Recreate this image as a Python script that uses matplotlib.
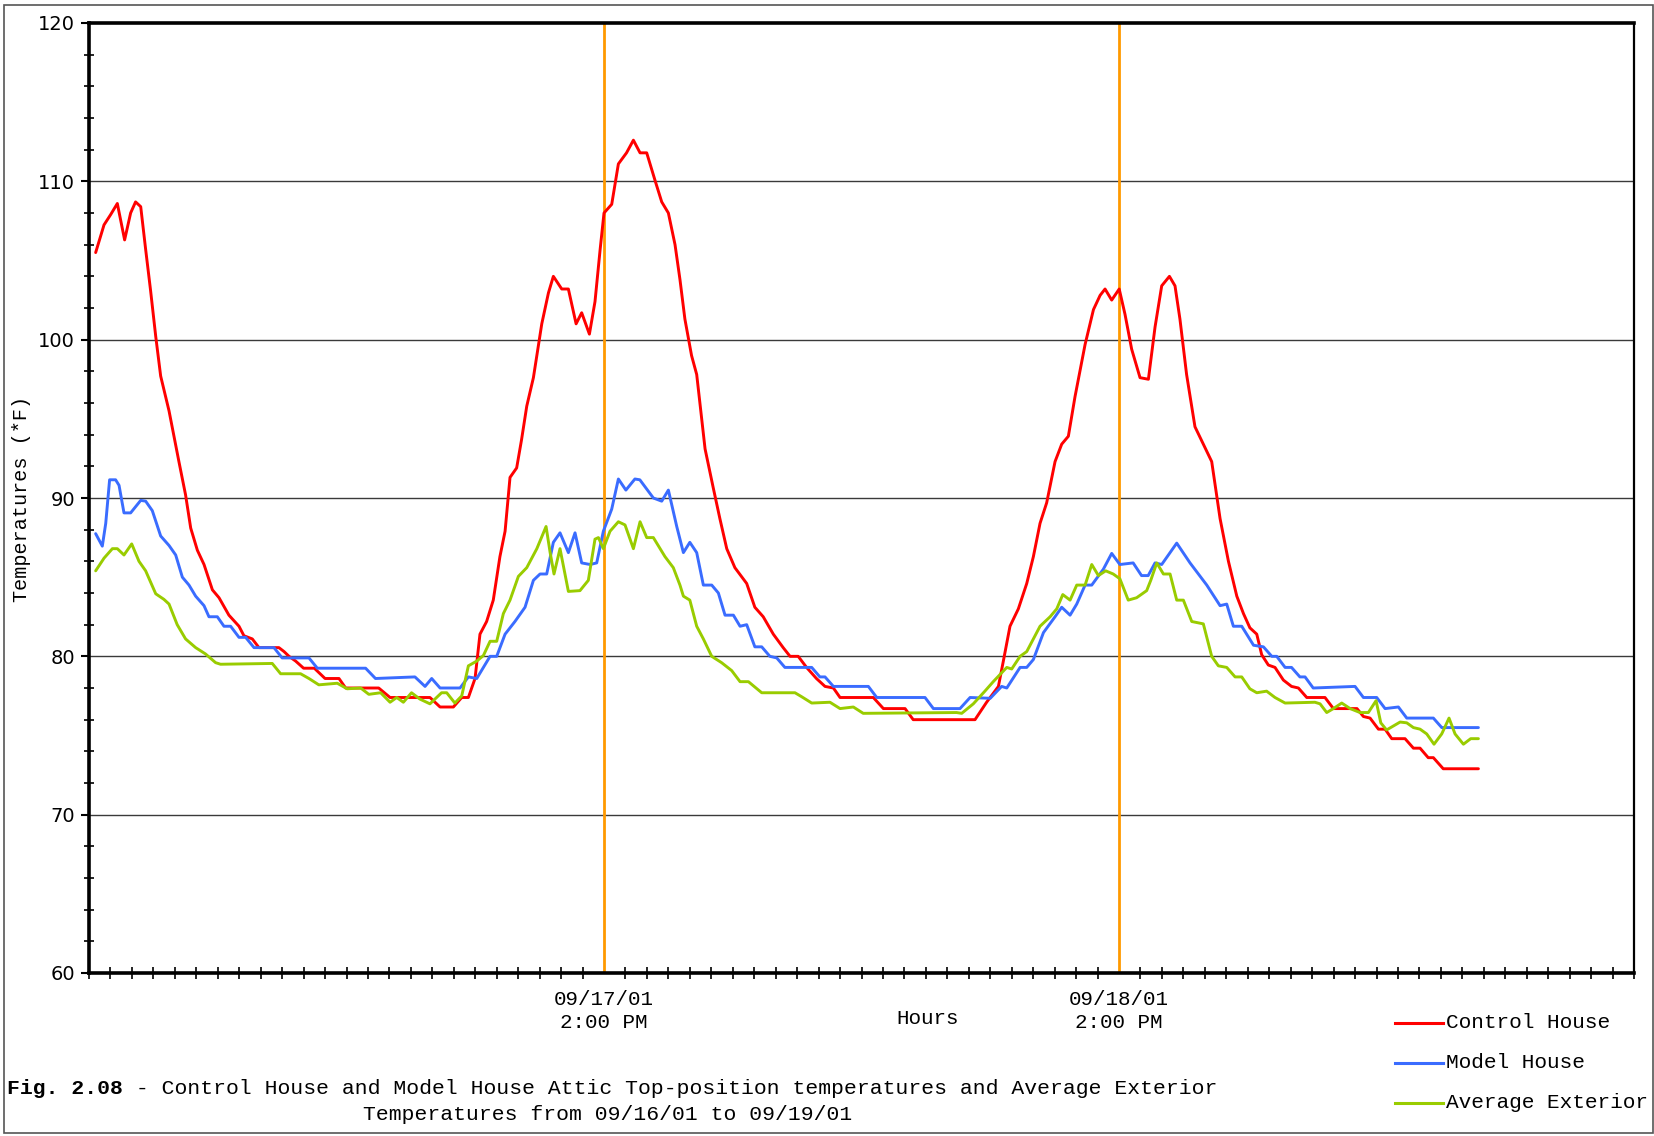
import matplotlib
matplotlib.use("Agg")
import matplotlib.pyplot as plt
from matplotlib.lines import Line2D
from matplotlib.patches import Rectangle
from matplotlib.ticker import MultipleLocator

# ─── DATA (hours since 09/16/01 2:00 PM, temperatures in *F) ─────────────

ctrl_hours = [0.31, 0.70, 1.01, 1.32, 1.66, 1.94, 2.17, 2.41, 2.64, 2.87, 3.11, 3.34,
              3.73, 4.19, 4.50, 4.74, 5.05, 5.36, 5.75, 6.06, 6.52, 6.99, 7.22, 7.61,
              7.92, 8.85, 9.09, 9.32, 9.63, 10.0, 10.5, 11.0, 11.65, 11.96, 13.5, 14.03,
              15.89, 16.36, 16.98, 17.37, 17.68, 17.99, 18.22, 18.53, 18.84, 19.15, 19.39,
              19.62, 19.93, 20.16, 20.4, 20.71, 21.1, 21.41, 21.64, 22.03, 22.34, 22.7,
              22.96, 23.32, 23.58, 23.82, 24.0, 24.36, 24.67, 25.05, 25.37, 25.68, 25.99,
              26.38, 26.69, 27.0, 27.31, 27.54, 27.77, 28.08, 28.32, 28.71, 29.09, 29.4,
              29.72, 30.1, 30.65, 31.03, 31.42, 31.89, 32.35, 32.67, 33.05, 33.44, 33.9,
              34.3, 34.69, 35.0, 36.55, 37.02, 38.03, 38.41, 41.29, 41.83, 42.38, 42.61,
              42.92, 43.31, 43.7, 44.01, 44.32, 44.63, 45.02, 45.33, 45.64, 45.95, 46.42,
              46.81, 47.12, 47.35, 47.66, 48.01, 48.28, 48.59, 48.98, 49.37, 49.68, 49.99,
              50.35, 50.61, 50.84, 51.15, 51.54, 51.93, 52.32, 52.71, 53.1, 53.49, 53.8,
              54.1, 54.42, 54.65, 54.96, 55.27, 55.66, 56.04, 56.36, 56.75, 57.6, 57.99,
              59.09, 59.39, 59.7, 60.09, 60.4, 60.71, 61.33, 61.72, 62.03, 62.41, 62.65,
              63.11, 64.75]
ctrl_temps = [105.5, 107.25, 107.9, 108.6, 106.3, 108.0, 108.7, 108.4, 105.7, 103.1, 100.2, 97.7,
              95.5, 92.3, 90.2, 88.1, 86.7, 85.8, 84.2, 83.7, 82.6, 81.9, 81.3, 81.1,
              80.55, 80.55, 80.3, 80.0, 79.7, 79.25, 79.25, 78.6, 78.6, 78.0, 78.0, 77.4,
              77.4, 76.8, 76.8, 77.4, 77.4, 78.6, 81.4, 82.2, 83.55, 86.3, 87.9,
              91.3, 91.9, 93.7, 95.8, 97.6, 101.0, 102.95, 104.0, 103.2, 103.2, 101.0,
              101.7, 100.35, 102.4, 105.7, 108.0, 108.55, 111.1, 111.8, 112.6, 111.8, 111.8,
              110.05, 108.7, 108.0, 106.0, 103.8, 101.3, 99.0, 97.8, 93.1, 90.65, 88.7,
              86.8, 85.6, 84.6, 83.1, 82.5, 81.4, 80.55, 80.0, 80.0, 79.3, 78.6,
              78.1, 78.0, 77.4, 77.4, 76.7, 76.7, 76.0, 76.0, 77.1, 78.1, 79.7,
              81.9, 83.0, 84.6, 86.3, 88.4, 89.7, 92.3, 93.4, 93.9, 96.4, 99.7,
              101.9, 102.8, 103.2, 102.5, 103.2, 101.6, 99.4, 97.6, 97.5, 100.8, 103.4,
              104.0, 103.4, 101.3, 97.8, 94.5, 93.4, 92.3, 88.7, 86.0, 83.8, 82.7,
              81.8, 81.4, 80.1, 79.45, 79.3, 78.5, 78.1, 78.0, 77.4, 77.4, 76.7,
              76.7, 76.2, 76.1, 75.4, 75.4, 74.8, 74.8, 74.2, 74.2, 73.6, 73.6,
              72.9, 72.9]

model_hours = [0.31, 0.62, 0.78, 0.96, 1.24, 1.40, 1.63, 1.94, 2.41, 2.64, 2.95, 3.34,
               3.73, 4.04, 4.35, 4.66, 4.97, 5.36, 5.59, 5.98, 6.29, 6.60, 6.99, 7.30,
               7.69, 8.62, 9.0, 10.25, 10.64, 12.89, 13.35, 15.19, 15.66, 15.97, 16.36,
               17.29, 17.68, 18.07, 18.69, 19.0, 19.39, 19.85, 20.32, 20.71, 21.02, 21.33,
               21.64, 21.95, 22.34, 22.65, 22.96, 23.35, 23.66, 23.97, 24.36, 24.67, 25.02,
               25.44, 25.67, 26.3, 26.69, 27.0, 27.39, 27.7, 28.0, 28.32, 28.63, 29.02,
               29.33, 29.64, 30.03, 30.34, 30.65, 31.03, 31.35, 31.73, 32.05, 32.43, 33.68,
               34.06, 34.3, 34.69, 36.32, 36.71, 38.96, 39.35, 40.59, 41.06, 42.0, 42.53,
               42.77, 43.39, 43.7, 44.01, 44.48, 45.02, 45.33, 45.72, 46.03, 46.42, 46.73,
               47.27, 47.66, 48.04, 48.66, 49.05, 49.36, 49.68, 49.99, 50.38, 50.69, 51.31,
               52.09, 52.71, 53.02, 53.33, 53.72, 54.27, 54.73, 55.12, 55.35, 55.74, 56.04,
               56.43, 56.67, 57.05, 59.0, 59.39, 60.01, 60.4, 61.02, 61.41, 62.65, 63.04,
               64.75]
model_temps = [87.75, 86.96, 88.4, 91.15, 91.15, 90.8, 89.06, 89.06, 89.85, 89.8, 89.2, 87.6,
               87.0, 86.4, 85.0, 84.5, 83.8, 83.2, 82.5, 82.5, 81.9, 81.9, 81.2, 81.2,
               80.55, 80.55, 79.9, 79.9, 79.25, 79.25, 78.6, 78.7, 78.1, 78.6, 78.0,
               78.0, 78.7, 78.6, 80.0, 80.0, 81.4, 82.2, 83.1, 84.8, 85.2, 85.2,
               87.2, 87.8, 86.55, 87.8, 85.9, 85.8, 85.9, 87.9, 89.3, 91.2, 90.5,
               91.2, 91.15, 90.0, 89.8, 90.5, 88.2, 86.55, 87.2, 86.55, 84.5, 84.5,
               84.0, 82.6, 82.6, 81.9, 82.0, 80.6, 80.6, 80.0, 79.9, 79.3, 79.3,
               78.7, 78.7, 78.1, 78.1, 77.4, 77.4, 76.7, 76.7, 77.4, 77.35, 78.1,
               78.0, 79.3, 79.3, 79.8, 81.5, 82.5, 83.1, 82.6, 83.3, 84.5, 84.5,
               85.5, 86.5, 85.8, 85.9, 85.1, 85.1, 85.9, 85.8, 86.55, 87.15, 85.9,
               84.5, 83.2, 83.3, 81.9, 81.9, 80.7, 80.6, 80.0, 80.0, 79.3, 79.3,
               78.7, 78.7, 78.0, 78.1, 77.4, 77.4, 76.7, 76.8, 76.1, 76.1, 75.5,
               75.5]

ext_hours = [0.31, 0.70, 1.09, 1.32, 1.63, 1.99, 2.33, 2.64, 3.11, 3.49, 3.73, 4.11,
             4.50, 4.97, 5.43, 5.90, 6.13, 8.54, 8.93, 9.86, 10.25, 10.71, 11.57, 12.03,
             12.66, 13.04, 13.59, 14.03, 14.34, 14.65, 15.03, 15.42, 15.89, 16.43, 16.67,
             17.05, 17.37, 17.68, 18.07, 18.38, 18.69, 19.0, 19.31, 19.62, 20.01, 20.4,
             20.87, 21.3, 21.49, 21.67, 21.95, 22.34, 22.88, 23.27, 23.58, 23.74, 23.97,
             24.28, 24.67, 24.98, 25.37, 25.68, 25.99, 26.3, 26.84, 27.23, 27.54, 27.7,
             28.0, 28.32, 28.63, 29.02, 29.48, 29.95, 30.34, 30.73, 31.35, 32.9, 33.21,
             33.68, 34.53, 35.0, 35.62, 36.08, 40.43, 40.67, 41.21, 41.75, 42.14, 42.77,
             43.0, 43.39, 43.7, 44.32, 44.79, 45.1, 45.38, 45.72, 46.03, 46.42, 46.73,
             47.04, 47.38, 47.73, 48.04, 48.43, 48.82, 49.29, 49.48, 49.76, 50.07, 50.38,
             50.69, 51.0, 51.39, 51.93, 52.32, 52.63, 53.02, 53.41, 53.72, 54.1, 54.42,
             54.88, 55.27, 55.74, 57.13, 57.37, 57.68, 57.99, 58.38, 58.77, 59.23, 59.62,
             59.98, 60.2, 60.47, 60.79, 61.1, 61.41, 61.72, 62.03, 62.34, 62.68, 63.04,
             63.38, 63.66, 64.05, 64.39, 64.75]
ext_temps = [85.4, 86.2, 86.8, 86.8, 86.4, 87.1, 86.0, 85.4, 83.95, 83.6, 83.3, 82.0,
             81.1, 80.55, 80.15, 79.6, 79.5, 79.55, 78.9, 78.9, 78.6, 78.2, 78.3, 77.95,
             78.0, 77.6, 77.7, 77.1, 77.4, 77.1, 77.7, 77.3, 77.0, 77.7, 77.7,
             77.05, 77.5, 79.4, 79.7, 80.05, 80.95, 80.95, 82.7, 83.55, 85.05, 85.6,
             86.8, 88.2, 86.55, 85.2, 86.8, 84.1, 84.15, 84.8, 87.4, 87.5, 86.8,
             87.9, 88.5, 88.3, 86.8, 88.5, 87.5, 87.5, 86.3, 85.6, 84.5, 83.8,
             83.55, 81.9, 81.1, 80.0, 79.6, 79.1, 78.4, 78.4, 77.7, 77.7, 77.45,
             77.05, 77.1, 76.7, 76.8, 76.4, 76.45, 76.4, 77.0, 77.8, 78.4, 79.3,
             79.2, 80.0, 80.3, 81.9, 82.5, 83.0, 83.9, 83.55, 84.5, 84.5, 85.8,
             85.1, 85.4, 85.2, 84.9, 83.55, 83.7, 84.15, 84.8, 85.9, 85.2, 85.2,
             83.55, 83.55, 82.2, 82.05, 80.0, 79.4, 79.3, 78.7, 78.7, 77.95, 77.7,
             77.8, 77.4, 77.05, 77.1, 77.0, 76.45, 76.7, 77.05, 76.7, 76.45, 76.45,
             77.2, 75.8, 75.35, 75.6, 75.85, 75.8, 75.5, 75.4, 75.1, 74.45, 75.1,
             76.1, 75.1, 74.45, 74.8, 74.8]

day_marks = [24, 48]
day_labels = ["09/17/01\n2:00 PM", "09/18/01\n2:00 PM"]
series_names = ["Control House", "Model House", "Average Exterior"]
series_colors = ["#ff0000", "#3a6cff", "#99cc00"]

MONO = "Liberation Mono"

# ─── FIGURE ──────────────────────────────────────────────────────────────

W, H = 1654, 1136
fig = plt.figure(figsize=(W / 100, H / 100), dpi=100)
ax = fig.add_axes([89 / W, 1 - 973 / H, (1634 - 89) / W, (973 - 23) / H])

for ys in [70, 80, 90, 100, 110]:
    ax.axhline(ys, color="#3a3a3a", lw=1.0, zorder=1)
for d in day_marks:
    ax.axvline(d, color="#ff9900", lw=2.0, zorder=2)

line_kw = dict(lw=2.1, zorder=3, solid_joinstyle="round", solid_capstyle="round")
ax.plot(ctrl_hours, ctrl_temps, color=series_colors[0], **line_kw)
ax.plot(model_hours, model_temps, color=series_colors[1], **line_kw)
ax.plot(ext_hours, ext_temps, color=series_colors[2], **line_kw)

ax.set_xlim(0, 72)
ax.set_ylim(60, 120)

ax.set_yticks(range(60, 121, 10))
ax.yaxis.set_minor_locator(MultipleLocator(2))
ax.set_xticks(day_marks)
ax.set_xticklabels(day_labels, family=MONO, fontsize=15, linespacing=1.3)
ax.xaxis.set_minor_locator(MultipleLocator(1))
ax.tick_params(axis="y", which="major", direction="out", length=6, width=1.5,
               labelsize=14, pad=4, colors="black")
ax.tick_params(axis="y", which="minor", direction="inout", length=7, width=1.2)
ax.tick_params(axis="x", which="major", length=0, pad=12)
ax.tick_params(axis="x", which="minor", direction="inout", length=8, width=1.2)
for lbl in ax.get_yticklabels():
    lbl.set_family("DejaVu Sans")

for side in ["left", "bottom", "top"]:
    ax.spines[side].set_linewidth(2.6)
ax.spines["right"].set_linewidth(1.6)

fig.text(22 / W, 1 - 499 / H, "Temperatures (*F)", family=MONO, fontsize=14.5,
         rotation=90, ha="center", va="center")

fig.text(928 / W, 1 - 1019 / H, "Hours", family=MONO, fontsize=15,
         ha="center", va="center")

# legend drawn by hand in figure coords
for i, (name, col) in enumerate(zip(series_names, series_colors)):
    yy = 1 - (1023 + 40 * i) / H
    fig.add_artist(Line2D([1395 / W, 1443 / W], [yy, yy], color=col, lw=2.2,
                          transform=fig.transFigure))
    fig.text(1446 / W, yy, name, family=MONO, fontsize=15.2, ha="left", va="center")

# caption
fig.text(7 / W, 1 - 1089 / H, "Fig. 2.08", family=MONO, fontsize=15.4,
         fontweight="bold", ha="left", va="center")
fig.text(7 / W + 9 * 12.85 / W, 1 - 1089 / H,
         " - Control House and Model House Attic Top-position temperatures and Average Exterior",
         family=MONO, fontsize=15.4, ha="left", va="center")
fig.text(608 / W, 1 - 1115 / H, "Temperatures from 09/16/01 to 09/19/01",
         family=MONO, fontsize=15.4, ha="center", va="center")

# outer frame
fig.add_artist(Rectangle((4 / W, 3 / H), (W - 5) / W, (H - 8) / H, fill=False,
                         edgecolor="#555555", lw=1.2, transform=fig.transFigure))

fig.savefig("out.png", dpi=100)
